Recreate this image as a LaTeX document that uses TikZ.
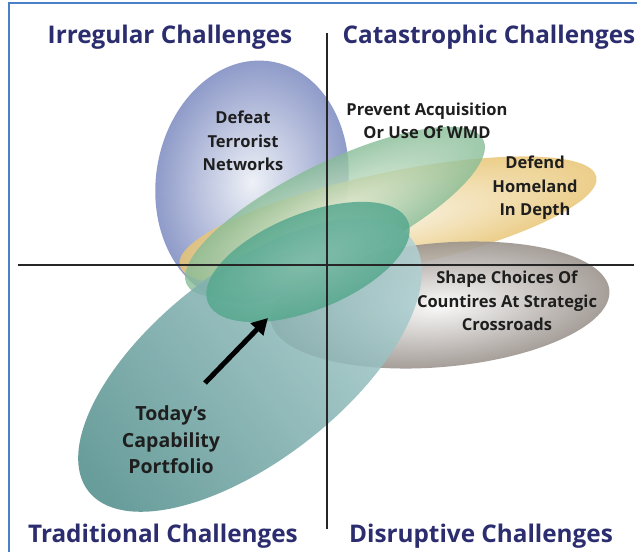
\documentclass[tikz,border=0pt]{standalone}
\usepackage{fontspec}
\setmainfont{Open Sans}
\usetikzlibrary{arrows.meta}
\definecolor{navy}{HTML}{2B2D6E}
\definecolor{frameblue}{HTML}{4A80C8}
\definecolor{labelc}{HTML}{1E1E1E}
\definecolor{blueIn}{HTML}{EEF1F7}
\definecolor{blueOut}{HTML}{8F9BC9}
\definecolor{greenIn}{HTML}{DCEBD6}
\definecolor{greenOut}{HTML}{86BC96}
\definecolor{tanIn}{HTML}{F8F0DA}
\definecolor{tanOut}{HTML}{E9C676}
\definecolor{grayIn}{HTML}{FAFAFA}
\definecolor{grayOut}{HTML}{9C948E}
\definecolor{tealA}{HTML}{4C8B88}
\definecolor{tealB}{HTML}{74A8A8}
\definecolor{tealC}{HTML}{B2D2D4}
\definecolor{innerA}{HTML}{56A88E}
\definecolor{innerB}{HTML}{7CBCA6}
\tikzset{
  title/.style={font=\fontsize{24.3}{28}\selectfont\bfseries, text=navy, inner sep=0pt},
  lab/.style={font=\fontsize{16.5}{23.5}\selectfont\bfseries, text=labelc, align=center, inner sep=0pt},
  biglab/.style={font=\fontsize{19.5}{26.5}\selectfont\bfseries, text=labelc, align=center, inner sep=0pt},
  axis/.style={draw=black!85, line width=1.3pt},
  bigarrow/.style={draw=black, line width=5pt, -{Triangle[length=16pt,width=17pt]}}
}
\begin{document}
\begin{tikzpicture}[x=1pt,y=-1pt]
\useasboundingbox (0,0) rectangle (637,552);
\fill[white] (0,0) rectangle (637,552);
\draw[frameblue, line width=2pt] (9,552) -- (9,3) -- (637,3);

% Defeat Terrorist Networks (blue)
\begin{scope}[transform canvas={shift={(252,182)},rotate=-9}]
  \shade[inner color=blueIn, outer color=blueOut] (0,0) ellipse [x radius=96, y radius=122];
\end{scope}
% Defend Homeland (tan)
\begin{scope}[transform canvas={shift={(388,221)},rotate=12}]
  \shade[inner color=tanIn, outer color=tanOut, fill opacity=0.85] (0,0) ellipse [x radius=213, y radius=48];
\end{scope}
% Prevent acquisition (green)
\begin{scope}[transform canvas={shift={(335,212)},rotate=26}]
  \shade[inner color=greenIn, outer color=greenOut, fill opacity=0.8] (0,0) ellipse [x radius=165, y radius=50];
\end{scope}
% Shape choices (gray)
\begin{scope}[transform canvas={shift={(440,305)},rotate=5}]
  \shade[inner color=grayIn, outer color=grayOut, fill opacity=0.9] (0,0) ellipse [x radius=170, y radius=62];
\end{scope}
% Today's capability portfolio (teal)
\begin{scope}[transform canvas={shift={(250,365)},rotate=38}]
  \shade[left color=tealA, middle color=tealB, right color=tealC, fill opacity=0.85] (0,0) ellipse [x radius=205, y radius=95];
\end{scope}
% inner green
\begin{scope}[transform canvas={shift={(308,262)},rotate=22}]
  \shade[inner color=innerB, outer color=innerA, fill opacity=0.85] (0,0) ellipse [x radius=108, y radius=48];
\end{scope}

% axes
\coordinate (hl) at (18,265);
\coordinate (hr) at (634,265);
\coordinate (vt) at (327,33);
\coordinate (vb) at (327,529);
\draw[axis] (hl) -- (hr);
\draw[axis] (vt) -- (vb);

% titles
\node[title] (irr) at (170,37) {Irregular Challenges};
\node[title] (cat) at (489,37) {Catastrophic Challenges};
\node[title] (tra) at (163,536) {Traditional Challenges};
\node[title] (dis) at (481,536) {Disruptive Challenges};

% labels
\node[lab] (dtn) at (243,141) {Defeat\\Terrorist\\Networks};
\node[lab] (paw) at (427,121) {Prevent Acquisition\\Or Use Of WMD};
\node[lab] (dhd) at (535,188) {Defend\\Homeland\\In Depth};
\node[lab] (scc) at (507,301) {Shape Choices Of\\Countires At Strategic\\Crossroads};
\node[biglab] (tcp) at (171,440) {Today’s\\Capability\\Portfolio};

% arrow
\coordinate (as) at (205,383);
\coordinate (ae) at (268,318);
\draw[bigarrow] (as) -- (ae);
\end{tikzpicture}
\end{document}
